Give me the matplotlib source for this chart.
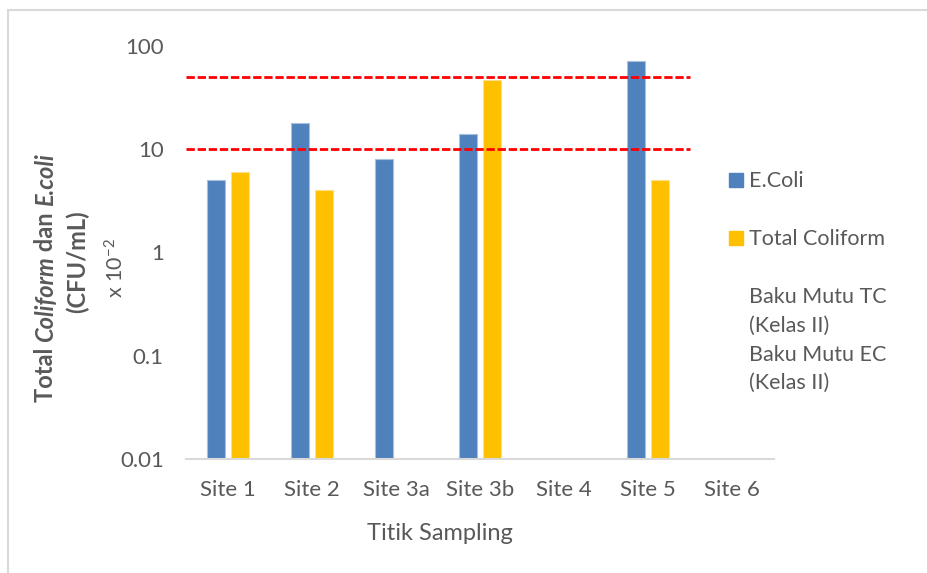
import numpy as np
import matplotlib
matplotlib.use("Agg")
import matplotlib.pyplot as plt
from matplotlib.patches import Rectangle
from matplotlib.transforms import IdentityTransform

# sample counts (x 10^-2 CFU/mL) per sampling point
SITES = ["Site 1", "Site 2", "Site 3a", "Site 3b", "Site 4", "Site 5", "Site 6"]
E_COLI = [5, 18, 8, 14, np.nan, 72, np.nan]
TOTAL_COLIFORM = [6, 4, np.nan, 47, np.nan, 5, np.nan]

# class II water quality limits
BAKU_MUTU_TC = 50
BAKU_MUTU_EC = 10

Y_TICKS = [0.01, 0.1, 1, 10, 100]
Y_TICK_LABELS = ["0.01", "0.1", "1", "10", "100"]

BLUE = "#4F81BD"
GOLD = "#FFC000"
TEXT = "#595959"
GRID = "#D9D9D9"

W, H = 928, 573
plt.rcParams["font.family"] = ["Lato", "DejaVu Sans"]
plt.rcParams["mathtext.fontset"] = "custom"
plt.rcParams["mathtext.rm"] = "Lato"
plt.rcParams["mathtext.default"] = "rm"


def fx(px):
    return px / W


def fy(py):
    return 1 - py / H


def rotated_runs(fig, x_base, y_mid, runs, size):
    """Vertical label built from runs of mixed weight/style, centred on y_mid (pixels from top)."""
    renderer = fig.canvas.get_renderer()

    def run_len(s, weight, style):
        probe = fig.text(0, 0, "|" + s + "|", fontsize=size, fontweight=weight, fontstyle=style)
        ref = fig.text(0, 0, "||", fontsize=size, fontweight=weight, fontstyle=style)
        w = probe.get_window_extent(renderer).width - ref.get_window_extent(renderer).width
        probe.remove()
        ref.remove()
        return w

    lens = [run_len(*r) for r in runs]
    y = (H - y_mid) - sum(lens) / 2
    for (s, weight, style), L in zip(runs, lens):
        fig.text(x_base, y, s, rotation=90, rotation_mode="anchor", ha="left", va="baseline",
                 fontsize=size, fontweight=weight, fontstyle=style, color=TEXT,
                 transform=IdentityTransform())
        y += L


fig = plt.figure(figsize=(W / 100, H / 100), dpi=100)
ax = fig.add_axes([fx(186), fy(459), fx(774) - fx(186), fy(46) - fy(459)])

x = np.arange(len(SITES))
bw = 0.22
ax.bar(x - 0.143, E_COLI, bw, color=BLUE, edgecolor="#A7C0DE", linewidth=0.8, zorder=2)
ax.bar(x + 0.143, TOTAL_COLIFORM, bw, color=GOLD, edgecolor="#FFE08A", linewidth=0.8, zorder=2)

for level in (BAKU_MUTU_TC, BAKU_MUTU_EC):
    ax.hlines(level, -0.5, 5.5, colors="#FF0000", linewidth=2.0,
              linestyles=(0, (3, 1)), zorder=3)

ax.set_yscale("log")
ax.set_ylim(0.01, 100)
ax.set_xlim(-0.5, len(SITES) - 0.5)
ax.set_yticks(Y_TICKS)
ax.set_yticklabels(Y_TICK_LABELS)
ax.yaxis.set_minor_locator(matplotlib.ticker.NullLocator())
ax.set_xticks(x)
ax.set_xticklabels(SITES)
ax.tick_params(axis="both", length=0, labelsize=16, colors=TEXT)
ax.tick_params(axis="x", pad=15)
ax.tick_params(axis="y", pad=16)

for side in ("top", "right", "left"):
    ax.spines[side].set_visible(False)
ax.spines["bottom"].set_color(GRID)
ax.spines["bottom"].set_linewidth(1.5)

# axis titles
fig.text(fx(440), fy(540), "Titik Sampling", ha="center", va="baseline",
         fontsize=17, color=TEXT)

rotated_runs(fig, 53, 278, [("Total ", "bold", "normal"), ("Coliform", "bold", "italic"),
                            (" dan ", "bold", "normal"), ("E.coli", "bold", "italic")], 17)
rotated_runs(fig, 85, 262, [("(CFU/mL)", "bold", "normal")], 17)
fig.text(123, H - 268, r"x 10$^{-2}$", rotation=90, rotation_mode="anchor",
         ha="center", va="baseline", fontsize=15.5, color=TEXT, transform=IdentityTransform())

# legend
for y0, colour in ((173, BLUE), (231, GOLD)):
    fig.add_artist(Rectangle((fx(729), fy(y0 + 14)), 14 / W, 14 / H,
                             transform=fig.transFigure, color=colour))
legend_lines = [("E.Coli", 187), ("Total Coliform", 245),
                ("Baku Mutu TC", 303), ("(Kelas II)", 332),
                ("Baku Mutu EC", 361), ("(Kelas II)", 389)]
for label, base in legend_lines:
    fig.text(fx(749), fy(base), label, ha="left", va="baseline", fontsize=15.5, color=TEXT)

# chart area border
fig.add_artist(Rectangle((fx(8.5), -0.1), 1.2, fy(10) + 0.1, transform=fig.transFigure,
                         fill=False, edgecolor=GRID, linewidth=1.5))

fig.savefig("out.png", dpi=100)
